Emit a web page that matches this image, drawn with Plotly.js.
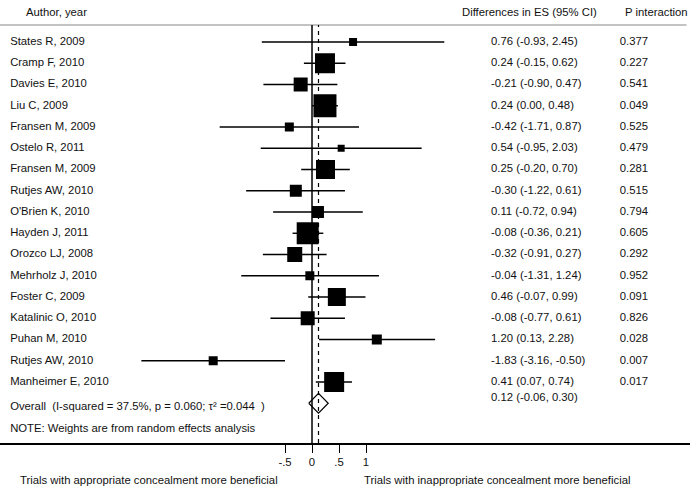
<!DOCTYPE html>
<html>
<head>
<meta charset="utf-8">
<script src="https://cdn.plot.ly/plotly-3.0.1.min.js"></script>
<style>body{margin:0;background:#fff}#myPlot{width:690px;height:489px}</style>
</head>
<body>
<div id="myPlot"></div>
<script>
// Study rows, top to bottom
const studies = ['States R, 2009', 'Cramp F, 2010', 'Davies E, 2010', 'Liu C, 2009', 'Fransen M, 2009',
    'Ostelo R, 2011', 'Fransen M, 2009', 'Rutjes AW, 2010', "O'Brien K, 2010", 'Hayden J, 2011',
    'Orozco LJ, 2008', 'Mehrholz J, 2010', 'Foster C, 2009', 'Katalinic O, 2010', 'Puhan M, 2010',
    'Rutjes AW, 2010', 'Manheimer E, 2010'];
const es = [0.76, 0.24, -0.21, 0.24, -0.42, 0.54, 0.25, -0.30, 0.11, -0.08, -0.32, -0.04, 0.46, -0.08, 1.20, -1.83, 0.41];
const lo = [-0.93, -0.15, -0.90, 0.00, -1.71, -0.95, -0.20, -1.22, -0.72, -0.36, -0.91, -1.31, -0.07, -0.77, 0.13, -3.16, 0.07];
const hi = [2.45, 0.62, 0.47, 0.48, 0.87, 2.03, 0.70, 0.61, 0.94, 0.21, 0.27, 1.24, 0.99, 0.61, 2.28, -0.50, 0.74];
const pInteraction = ['0.377', '0.227', '0.541', '0.049', '0.525', '0.479', '0.281', '0.515', '0.794',
    '0.605', '0.292', '0.952', '0.091', '0.826', '0.028', '0.007', '0.017'];
// relative weight -> box side in px
const boxSize = [8, 20, 14, 23, 9, 7, 19, 12, 12, 22, 15, 9, 18, 14, 10, 9, 20];

const overall = {es: 0.12, lo: -0.06, hi: 0.30,
    label: 'Overall  (I-squared = 37.5%, p = 0.060; τ² =0.044  )'};
const note = 'NOTE: Weights are from random effects analysis';
const tickVals = [-0.5, 0, 0.5, 1];
const tickText = ['-.5', '0', '.5', '1'];

const rows = studies.map((s, i) => i + 1);
const overallRow = studies.length + 1;
const noteRow = studies.length + 2;
const fmt = v => v.toFixed(2);
const ciText = es.map((v, i) => `${fmt(v)} (${fmt(lo[i])}, ${fmt(hi[i])})`);

const font = {family: 'Liberation Sans, Arial, sans-serif', size: 11.3, color: '#111'};
const labelX = -5.59, ciX = 3.315, pX = 5.70;

const traces = [
    {   // study estimates with CIs
        x: es, y: rows, type: 'scatter', mode: 'markers',
        marker: {symbol: 'square', size: boxSize, color: '#000', opacity: 1, line: {width: 0}},
        error_x: {type: 'data', symmetric: false,
            array: hi.map((h, i) => h - es[i]), arrayminus: lo.map((l, i) => es[i] - l),
            color: '#000', thickness: 1.4, width: 0},
        cliponaxis: false, hoverinfo: 'skip'
    },
    {   // overall diamond
        x: [overall.lo, overall.es, overall.hi, overall.es, overall.lo],
        y: [overallRow, overallRow - 0.47, overallRow, overallRow + 0.47, overallRow],
        type: 'scatter', mode: 'lines', line: {color: '#000', width: 1.2}, hoverinfo: 'skip'
    },
    {   // study names
        x: rows.map(() => labelX).concat([labelX, labelX]),
        y: rows.concat([overallRow + 0.2, noteRow + 0.2]),
        text: studies.concat([overall.label, note]),
        type: 'scatter', mode: 'text', textposition: 'middle right',
        textfont: font, cliponaxis: false, hoverinfo: 'skip'
    },
    {   // CI column
        x: rows.map(() => ciX).concat([ciX]),
        y: rows.concat([overallRow - 0.25]),
        text: ciText.concat([`${fmt(overall.es)} (${fmt(overall.lo)}, ${fmt(overall.hi)})`]),
        type: 'scatter', mode: 'text', textposition: 'middle right',
        textfont: font, cliponaxis: false, hoverinfo: 'skip'
    },
    {   // P interaction column
        x: rows.map(() => pX), y: rows, text: pInteraction,
        type: 'scatter', mode: 'text', textposition: 'middle right',
        textfont: font, cliponaxis: false, hoverinfo: 'skip'
    }
];

const layout = {
    width: 690, height: 489,
    margin: {l: 0, r: 0, t: 25, b: 46},
    paper_bgcolor: '#fff', plot_bgcolor: '#fff',
    showlegend: false,
    font: font,
    xaxis: {range: [-5.778, 7.0], showgrid: false, zeroline: false,
        showline: true, linecolor: '#000', linewidth: 1.5,
        ticks: 'outside', ticklen: 8, tickwidth: 1, tickcolor: '#000',
        tickvals: tickVals, ticktext: tickText, tickfont: font, fixedrange: true},
    yaxis: {range: [noteRow + 0.87, 0.2], showgrid: false, zeroline: false,
        showline: false, showticklabels: false, ticks: '', fixedrange: true},
    shapes: [
        {type: 'line', xref: 'paper', yref: 'paper', x0: 0, x1: 0.995, y0: 1, y1: 1,
            line: {color: '#888', width: 1.2}},
        {type: 'line', xref: 'x', yref: 'paper', x0: 0, x1: 0, y0: 0, y1: 1,
            line: {color: '#000', width: 1.5}},
        {type: 'line', xref: 'x', yref: 'paper', x0: overall.es, x1: overall.es, y0: 0, y1: 1,
            line: {color: '#000', width: 1.2, dash: '4px,4px'}}
    ],
    annotations: [
        {text: 'Author, year', x: -5.33, xanchor: 'left'},
        {text: 'Differences in ES (95% CI)', x: 2.74, xanchor: 'left'},
        {text: 'P interaction', x: 5.76, xanchor: 'left'}
    ].map(a => Object.assign(a, {xref: 'x', yref: 'paper', y: 1.031, yanchor: 'middle',
        showarrow: false, font: font})).concat([
        {text: 'Trials with appropriate concealment more beneficial', x: -5.44},
        {text: 'Trials with inappropriate concealment more beneficial', x: 0.926}
    ].map(a => Object.assign(a, {xref: 'x', yref: 'paper', y: -0.0885, xanchor: 'left',
        yanchor: 'middle', showarrow: false, font: font})))
};

Plotly.newPlot('myPlot', traces, layout, {staticPlot: true});
</script>
</body>
</html>
